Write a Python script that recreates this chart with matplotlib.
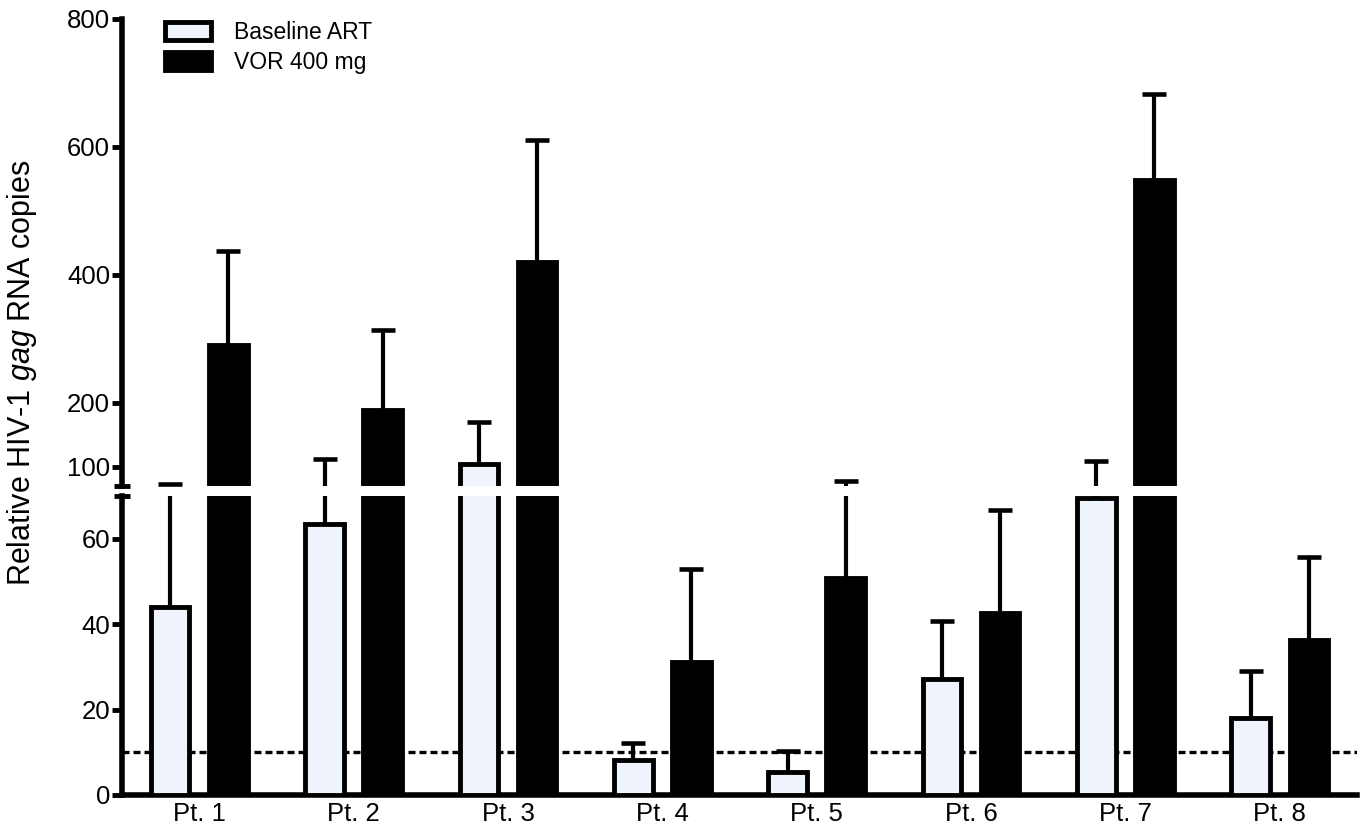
import matplotlib
matplotlib.use("Agg")
import matplotlib.pyplot as plt
import numpy as np

# data (relative HIV-1 gag RNA copies)
patients = ["Pt. 1", "Pt. 2", "Pt. 3", "Pt. 4", "Pt. 5", "Pt. 6", "Pt. 7", "Pt. 8"]
baseline = [44, 63.5, 104.5, 8.2, 5.4, 27.2, 69.5, 18]
baseline_top = [73, 112.5, 170, 12.2, 10.3, 40.8, 108.5, 29]
vor = [290, 189, 420, 31.2, 50.9, 42.7, 548, 36.3]
vor_top = [437.5, 314, 611, 53, 78, 66.8, 683, 55.8]
detection_limit = 10
axis_break = 70

plt.rcParams["font.family"] = ["Liberation Sans", "DejaVu Sans"]
plt.rcParams["mathtext.fontset"] = "custom"
plt.rcParams["mathtext.rm"] = "Liberation Sans"
plt.rcParams["mathtext.it"] = "Liberation Sans:italic"

W, H = 1364, 831
fig = plt.figure(figsize=(W / 100, H / 100), dpi=100)
left, right = 122 / W, 1357 / W
ax_lo = fig.add_axes([left, (H - 795) / H, right - left, (795 - 496) / H])
ax_hi = fig.add_axes([left, (H - 486) / H, right - left, (486 - 19) / H])

x = np.arange(len(patients))
off, width = 0.188, 0.25
light = "#eef3fc"
edge_lw = 3.5


def error_bars(ax, xs, vals, tops, keep):
    sd = tops[keep] - vals[keep]
    if len(sd) == 0:
        return
    _, caps, _ = ax.errorbar(xs[keep], vals[keep], yerr=[np.zeros(len(sd)), sd],
                             fmt="none", ecolor="black", elinewidth=3,
                             capsize=8.3, capthick=3.3, zorder=2)
    caps[0].set_visible(False)  # one-sided bars: no cap at the bar top


def draw(ax, upper):
    ax.axhline(detection_limit, color="black", lw=2.4, ls=(0, (2.1, 1.2)), zorder=1)
    handles = []
    for xs, vals, tops, face, lab in [(x - off, baseline, baseline_top, light, "Baseline ART"),
                                      (x + off, vor, vor_top, "black", "VOR 400 mg")]:
        vals, tops = np.asarray(vals, float), np.asarray(tops, float)
        # the upper panel only shows the bars and whiskers that reach past the break
        bar_keep = vals > axis_break if upper else np.ones(len(vals), bool)
        err_keep = tops > axis_break if upper else np.ones(len(tops), bool)
        b = ax.bar(xs[bar_keep], vals[bar_keep], width, color=face, edgecolor="black",
                   linewidth=edge_lw, zorder=3, label=lab)
        handles.append(b)
        error_bars(ax, xs, vals, tops, err_keep)
    ax.set_xlim(-0.5, 7.5)
    for s in ["top", "right"]:
        ax.spines[s].set_visible(False)
    ax.spines["left"].set_linewidth(4)
    ax.spines["bottom"].set_linewidth(4)
    ax.tick_params(axis="y", which="major", direction="out", length=7, width=3.5,
                   labelsize=18.5, pad=1.5)
    ax.tick_params(axis="y", which="minor", direction="inout", length=12, width=3.5)
    ax.set_yticks([axis_break], minor=True)
    return handles


b1, b2 = draw(ax_lo, False)
draw(ax_hi, True)

ax_lo.set_ylim(0, axis_break)
ax_lo.set_yticks([0, 20, 40, 60])
ax_lo.set_xticks(x)
ax_lo.set_xticklabels(patients)
ax_lo.tick_params(axis="x", length=0, labelsize=18.5, pad=5)

ax_hi.set_ylim(axis_break, 800)
ax_hi.set_yticks([100, 200, 400, 600, 800])
ax_hi.spines["bottom"].set_visible(False)
ax_hi.set_xticks([])

fig.text(22 / W, 1 - 373 / H, "Relative HIV-1 $\\mathit{gag}$ RNA copies",
         rotation=90, ha="center", va="center", fontsize=22)

fig.legend(handles=[b1, b2], loc="upper left", bbox_to_anchor=(165 / W, 1 - 21 / H),
           frameon=False, fontsize=16.5, handlelength=2.0, handleheight=0.85,
           handletextpad=1.0, labelspacing=0.3, borderpad=0, borderaxespad=0)

fig.savefig("out.png", dpi=100, facecolor="white")
